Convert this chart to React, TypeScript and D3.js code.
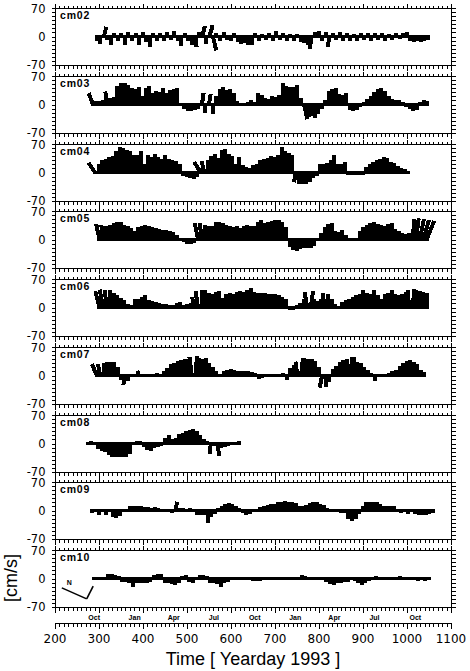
import React from "react";
import * as d3 from "d3";

// current-meter stick records, one stick every 8 days (v = along, u = lean), cm/s
const cm02V = [-12, -18, 24, -8, -22, 8, -10, 9, -22, 10,
  -12, 8, -22, 10, -14, -25, 9, -10, 8, -12,
  12, -8, 14, -10, -24, 8, -12, -20, -26, 10,
  26, -18, 28, -34, 8, -10, 10, -8, -12, 8,
  -14, -18, -16, -22, -20, 8, -10, 6, -8, 8,
  -10, 14, -8, 8, -10, 7, -12, 6, -14, -16,
  -22, -30, 12, 14, -10, 10, -26, 8, -8, 10,
  -12, 8, -10, 6, -12, 8, -8, 9, -10, 8,
  -8, 8, -10, 7, -8, 8, -6, 8, 12, -10,
  -14, -12, -14, -12, -8];
const cm03V = [28, 8, 8, 10, 32, 16, 18, 46, 52, 54,
  48, 40, 38, 44, 20, 40, 45, 28, 32, 30,
  40, 28, 36, 38, 40, -4, -12, -15, -16, -14,
  -10, 28, -20, 26, -24, 20, 38, 44, 36, 38,
  28, 8, -4, 4, 6, 12, 5, 28, 24, 16,
  14, 20, 18, 24, 52, 46, 44, 42, 48, 16,
  -36, -30, -28, -32, -24, -12, 12, 34, 38, 40,
  26, 24, 28, -14, -16, -14, -6, 6, 14, 20,
  30, 38, 40, 32, 22, 14, 12, 10, 6, -6,
  -12, -16, -14, 6, 10, 8];
const cm04V = [24, 22, 30, 34, 38, 40, 54, 62, 60, 55,
  52, 44, 42, 54, 22, 42, 38, 46, 38, 34,
  42, 32, 30, 28, 20, -8, -12, -14, -16, -10,
  26, 28, 30, 40, 46, 36, 55, 58, 46, 40,
  20, 38, 18, 14, 12, 18, 22, 30, 32, 36,
  40, 38, 42, 62, 52, 48, 42, -24, -28, -28,
  -28, -24, -14, -8, 20, 22, 24, 30, 42, 22,
  20, 26, -6, -7, -7, -6, -5, 14, 22, 26,
  30, 32, 38, 36, 26, 24, 16, 12, 8, 4];
const cm05V = [38, 36, 32, 36, 40, 44, 42, 36, 34, 28,
  20, 30, 34, 36, 34, 30, 28, 26, 24, 24,
  20, 18, 12, 4, -6, -10, -10, -8, 40, 40,
  36, 32, 34, 44, 44, 40, 36, 34, 30, 32,
  28, 34, 36, 32, 34, 44, 48, 40, 42, 46,
  48, 48, 44, 30, -18, -26, -28, -24, -22, -20,
  -20, -16, 4, 16, 30, 38, 40, 22, 18, 24,
  10, 4, -4, -2, 20, 30, 36, 40, 42, 38,
  36, 34, 38, 40, 26, 22, 16, 14, 16, 50,
  52, 50, 48, 46];
const cm06V = [40, 44, 43, 42, 36, 30, 24, 18, 8, 6,
  20, 22, 26, 30, 18, 16, 14, 10, 9, 8,
  6, 5, 10, 14, 6, 8, 10, 26, 40, 44,
  42, 36, 34, 38, 40, 24, 34, 36, 34, 38,
  40, 38, 42, 48, 38, 36, 36, 36, 34, 34,
  32, 30, 26, 20, -6, -7, 6, 12, 22, 38,
  40, 20, 16, 22, 36, 34, 20, 8, -4, 14,
  18, 20, 26, 30, 34, 44, 36, 32, 42, 30,
  22, 34, 36, 44, 34, 30, 32, 38, 42, 46,
  44, 40, 38, 36];
const cm07V = [28, 28, 30, 32, 34, 32, 22, -12, -24, -14,
  -4, -3, 12, 4, -3, 4, -3, 6, 4, 12,
  18, 28, 30, 36, 38, 40, 40, 46, 48, 42,
  40, 44, 30, 20, 10, -4, 10, 14, 16, 14,
  12, 10, 12, 10, 8, 6, -8, -6, 3, -2,
  3, -2, 4, 5, -10, 18, 26, 34, 42, 44,
  40, 40, 36, 22, -30, -28, -16, 16, 24, 34,
  38, 40, 44, 46, 34, 30, 22, 14, 6, -14,
  -4, 3, 4, 6, 12, 14, 24, 30, 36, 38,
  34, 28, 14, 8];
const cm08V = [4, 5, 4, -14, -18, -22, -28, -32, -34, -34,
  -33, -34, -26, 3, 6, 6, -8, -16, -18, -10,
  -8, -6, 14, 22, 10, 14, 24, 26, 30, 34,
  36, 30, 20, 12, 6, -26, -6, -30, -12, -8,
  -6, -4, 3, 6];
const cm09V = [-6, 4, -12, 4, -10, 3, -16, -18, -14, 3,
  -4, 10, 12, 10, 11, 9, 8, 7, 8, 6,
  3, -4, 4, -5, 22, 6, 5, -4, 6, 4,
  -10, -12, -10, -30, -16, -8, 6, 10, 16, 18,
  16, 12, 6, -6, -12, -8, 3, 4, 8, 10,
  14, 16, 16, 20, 22, 24, 20, 22, 18, 10,
  12, 14, 18, 22, 20, 16, 14, 6, 3, 3,
  -3, -5, -6, -20, -26, -22, -8, 10, 20, 22,
  22, 20, 16, 12, 12, 10, 10, 4, -6, 3,
  -8, 3, -8, -12, -10, -12, -8, -6];
const cm10V = [2, -2, 3, -3, 10, 11, 8, 6, -8, -9,
  -10, -20, -12, -10, -12, -10, -8, 8, 11, 10,
  -10, -12, -14, -15, -12, 5, 8, -8, -10, 4,
  8, 9, 7, -10, -12, -14, -20, -10, -8, 3,
  -3, 3, -3, 2, -4, -6, -7, -6, -4, 2,
  -3, 2, -3, 2, -4, -3, -4, 2, 4, 9,
  7, 3, -3, 2, -4, -3, -8, -14, -16, -12,
  -10, -9, -8, -4, -6, -12, -15, -12, -6, 3,
  6, 3, -3, 2, -3, 2, 4, 5, 3, -3,
  -4, -4, -5, -4, -5, -4];

// lean of the sticks (u), by stick index; the rest stand straight
const cm02U: Record<number, number> = { 2: 6, 28: 3, 30: 6, 32: 8, 33: 8, 61: -4, 66: -3 };
const cm03U: Record<number, number> = { 0: -10, 4: -4, 31: 4, 33: 4, 60: 8, 61: 5 };
const cm04U: Record<number, number> = { 0: -16, 30: -16, 31: -6, 57: -4 };
const cm05U: Record<number, number> = { 0: -8, 1: -4, 28: -8, 29: -4, 89: 4, 90: 6, 91: 10, 92: 14, 93: 18 };
const cm06U: Record<number, number> = { 0: -10, 1: -8, 2: -4, 27: -6, 28: -6, 59: -6, 60: 6, 64: -5, 88: -4, 89: 4 };
const cm07U: Record<number, number> = { 0: -12, 1: -6, 8: -4, 12: -4, 27: -6, 28: 4, 57: -5, 58: 5, 64: -6, 72: 5 };
const cm08U: Record<number, number> = { 35: -3, 37: 3 };
const cm09U: Record<number, number> = { 24: 2 };
const cm10U: Record<number, number> = {};

const records = [
  { name: "cm02", start: 295, v: cm02V, u: cm02U },
  { name: "cm03", start: 286, v: cm03V, u: cm03U },
  { name: "cm04", start: 291, v: cm04V, u: cm04U },
  { name: "cm05", start: 301, v: cm05V, u: cm05U },
  { name: "cm06", start: 301, v: cm06V, u: cm06U },
  { name: "cm07", start: 295, v: cm07V, u: cm07U },
  { name: "cm08", start: 274, v: cm08V, u: cm08U },
  { name: "cm09", start: 283, v: cm09V, u: cm09U },
  { name: "cm10", start: 289, v: cm10V, u: cm10U },
];
const STEP = 8;

const yeardayTicks = [200, 300, 400, 500, 600, 700, 800, 900, 1000, 1100];
const monthNames = ["Oct", "Jan", "Apr", "Jul", "Oct", "Jan", "Apr", "Jul", "Oct"];
const monthMidDays = [289, 381, 470, 561, 654, 746, 835, 926, 1019];
const yLabels = [70, 0, -70];
// orientation key in the last panel: origin (day, cm/s), north and east legs (u, v)
const northKey = { day: 272, v: -50, n: [-61, 27], e: [16, 31] };

const numFont = "DejaVu Sans, sans-serif";
const txtFont = "Liberation Sans, Arial, sans-serif";

export default function App() {
  const W = 470, H = 671;
  const left = 55, right = 451;
  const panelH = 57;
  const x = d3.scaleLinear().domain([200, 1100]).range([left, right]);
  const minorX = x.ticks(90);
  const majorX = x.ticks(9);
  const tops = records.map((_, i) => Math.round(8 + i * 67.75));
  const axisY = 623;

  return (
    <svg width={W} height={H} style={{ position: "absolute", left: 0, top: 0, background: "#fff" }}
      shapeRendering="crispEdges">
      {records.map((r, i) => {
        const top = tops[i];
        const bot = top + panelH;
        const y = d3.scaleLinear().domain([-70, 70]).range([bot, top]);
        const k = y(0) - y(1);
        const yt = y.ticks(14);
        const lastDay = r.start + (r.v.length - 1) * STEP;
        return (
          <g key={r.name}>
            {/* dense daily sticks merge into a band along zero */}
            <line x1={x(r.start) - 2} x2={x(lastDay) + 2} y1={y(0)} y2={y(0)} stroke="#000" strokeWidth={3} />
            {r.v.map((v, j) => {
              const x0 = x(r.start + j * STEP);
              const u = r.u[j] || 0;
              return <line key={j} x1={x0} y1={y(0)} x2={x0 + u * k} y2={y(v)} stroke="#000" strokeWidth={4} />;
            })}
            <rect x={left + 0.5} y={top + 0.5} width={right - left} height={panelH} fill="none" stroke="#000" />
            {minorX.map(t => {
              const len = majorX.includes(t) ? 5 : 3;
              const xx = Math.round(x(t)) + 0.5;
              return (
                <g key={"t" + t}>
                  <line x1={xx} x2={xx} y1={top + 0.5} y2={top + 0.5 - len} stroke="#000" />
                  <line x1={xx} x2={xx} y1={bot + 0.5} y2={bot + 0.5 + len} stroke="#000" />
                </g>
              );
            })}
            {yt.map(t => {
              const yy = Math.round(y(t)) + 0.5;
              return (
                <g key={"y" + t}>
                  <line x1={left + 0.5} x2={left + 0.5 - 4} y1={yy} y2={yy} stroke="#000" />
                  <line x1={right + 0.5} x2={right + 0.5 + 4} y1={yy} y2={yy} stroke="#000" />
                </g>
              );
            })}
            {yLabels.map(t => (
              <text key={"l" + t} x={45.5} y={y(t) + (t === 70 ? 0.5 : t === -70 ? -0.5 : 0)} dy="0.36em"
                textAnchor="end" fontFamily={numFont} fontSize={11.5} fill="#000">{t}</text>
            ))}
            <text x={60} y={top + 10.5} fontFamily={txtFont} fontSize={10.5} fontWeight="bold"
              letterSpacing={0.8} fill="#000">{r.name}</text>
            {i === records.length - 1 && (() => {
              const ox = x(northKey.day), oy = y(northKey.v);
              const nx = ox + northKey.n[0] * k, ny = oy - northKey.n[1] * k;
              const ex = ox + northKey.e[0] * k, ey = oy - northKey.e[1] * k;
              return (
                <g shapeRendering="auto">
                  <line x1={ox} y1={oy} x2={nx} y2={ny} stroke="#000" strokeWidth={1.6} />
                  <line x1={ox} y1={oy} x2={ex} y2={ey} stroke="#000" strokeWidth={1.6} />
                  <text x={nx + 5} y={ny - 3} fontFamily={txtFont} fontSize={7} fontWeight="bold" fill="#000">N</text>
                </g>
              );
            })()}
          </g>
        );
      })}

      {monthNames.map((m, i) => (
        <text key={"m" + i} x={x(monthMidDays[i])} y={620} textAnchor="middle"
          fontFamily={txtFont} fontSize={7} fontWeight="bold" fill="#000">{m}</text>
      ))}

      <line x1={left} x2={right + 1} y1={axisY + 0.5} y2={axisY + 0.5} stroke="#000" />
      {minorX.map(t => {
        const xx = Math.round(x(t)) + 0.5;
        return <line key={"b" + t} x1={xx} x2={xx} y1={axisY + 0.5} y2={axisY + 0.5 + (majorX.includes(t) ? 5 : 3)} stroke="#000" />;
      })}
      {yeardayTicks.map(t => (
        <text key={"x" + t} x={x(t)} y={639} dy="0.36em" textAnchor="middle"
          fontFamily={numFont} fontSize={12} fill="#000">{t}</text>
      ))}
      <text x={253} y={665} textAnchor="middle" fontFamily={txtFont} fontSize={18} fill="#000">Time [ Yearday 1993 ]</text>
      <text transform="translate(11,578) rotate(-90)" textAnchor="middle" dy="0.35em"
        fontFamily={txtFont} fontSize={18} fill="#000">[cm/s]</text>
    </svg>
  );
}
